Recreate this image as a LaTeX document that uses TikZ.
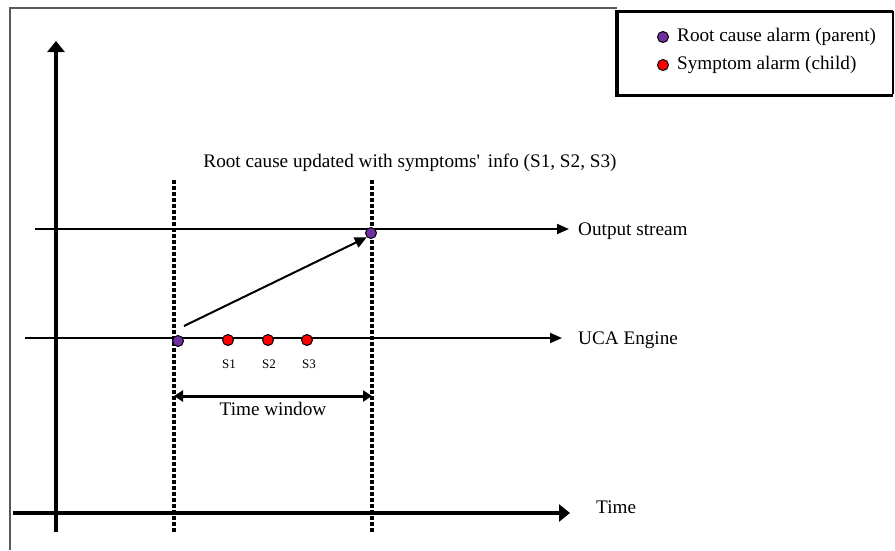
\documentclass[tikz,border=0pt]{standalone}
\usepackage{fontspec}
\setmainfont{Liberation Serif}
\usetikzlibrary{arrows.meta}
\definecolor{rootc}{HTML}{7030A0}
\definecolor{sympc}{HTML}{FF0000}
\begin{document}
\begin{tikzpicture}[x=1pt,y=-1pt,
  axis/.style={line width=3.6pt,-{Triangle[length=11pt,width=17pt]}},
  stream/.style={line width=2pt,-{Triangle[length=12pt,width=10pt]}},
  vdash/.style={line width=3.6pt,dash pattern=on 3.5pt off 2.5pt},
  alarm/.style={circle,draw=black,line width=1pt,inner sep=0pt,minimum size=11pt},
  rootalarm/.style={alarm,fill=rootc},
  sympalarm/.style={alarm,fill=sympc},
  lbl/.style={font=\fontsize{19.2}{21}\selectfont,anchor=west,inner sep=0pt},
  small/.style={font=\fontsize{13}{15}\selectfont,inner sep=0pt}]
\useasboundingbox (0,0) rectangle (895,550);
\fill[white] (0,0) rectangle (895,550);
% frame
\draw[gray!70!black,line width=1.3pt] (10,550) -- (10,8) -- (617,8);
% legend
\fill[white] (617,11) rectangle (893,94);
\draw[line width=1.3pt] (893,11) -- (893,94);
\draw[line width=3pt] (617,11) -- (893,11);
\draw[line width=3.6pt] (617,9.5) -- (617,95.5) -- (893,95.5);
\node[rootalarm] (lr) at (663,37) {};
\node[sympalarm] (ls) at (663,65) {};
\node[lbl] (lrt) at (677,37) {Root cause alarm (parent)};
\node[lbl] (lst) at (677,65) {Symptom alarm (child)};
% axes
\coordinate (va0) at (56,532);
\coordinate (va1) at (56,41);
\draw[axis] (va0) -- (va1);
\coordinate (ta0) at (13,513);
\coordinate (ta1) at (570,513);
\draw[axis] (ta0) -- (ta1);
\node[lbl] (timel) at (596,507) {Time};
% window borders
\coordinate (w1a) at (174,180);
\coordinate (w1b) at (174,532);
\coordinate (w2a) at (372,180);
\coordinate (w2b) at (372,532);
\draw[vdash] (w1a) -- (w1b);
\draw[vdash] (w2a) -- (w2b);
% streams
\coordinate (os0) at (35,229);
\coordinate (os1) at (569,229);
\draw[stream] (os0) -- (os1);
\node[lbl] (osl) at (578,231) {Output stream};
\coordinate (uc0) at (25,338);
\coordinate (uc1) at (562,338);
\draw[stream] (uc0) -- (uc1);
\node[lbl] (ucl) at (578,340) {UCA Engine};
% alarms
\node[rootalarm] (r1) at (178,341) {};
\node[rootalarm] (r2) at (371,233) {};
\node[sympalarm] (s1) at (228,340) {};
\node[sympalarm] (s2) at (268,340) {};
\node[sympalarm] (s3) at (307,340) {};
\node[small] (s1l) at (229,364) {S1};
\node[small] (s2l) at (269,364) {S2};
\node[small] (s3l) at (309,364) {S3};
% update arrow
\coordinate (ua0) at (184,326);
\draw[line width=2pt,-{Triangle[length=12pt,width=11pt]}] (ua0) -- (r2.south west);
% top text
\node[lbl,anchor=center] (top) at (410,163) {Root cause updated with symptoms\textquotesingle\, info (S1, S2, S3)};
% time window
\coordinate (tw0) at (174,396);
\coordinate (tw1) at (372,396);
\draw[line width=3pt,{Triangle[length=9pt,width=11pt]}-{Triangle[length=9pt,width=11pt]}] (tw0) -- (tw1);
\node[lbl,anchor=center] (twl) at (273,409) {Time window};
\end{tikzpicture}
\end{document}
